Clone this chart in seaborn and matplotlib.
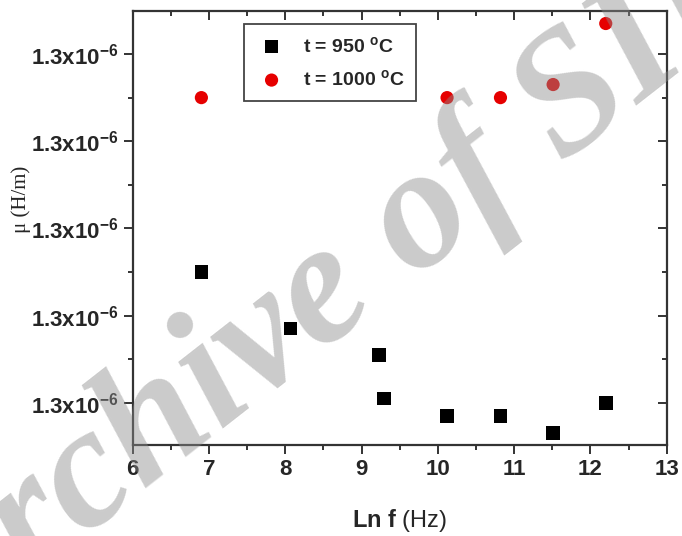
import matplotlib
matplotlib.use("Agg")
import matplotlib.pyplot as plt
from matplotlib.ticker import FixedLocator, AutoMinorLocator, FuncFormatter
import seaborn as sns
import pandas as pd

# ---- data (mu in units of 1e-6 H/m) ----
lnf_950 = [6.90, 8.07, 9.23, 9.29, 10.12, 10.82, 11.51, 12.20]
mu_950 = [1.25630, 1.25617, 1.25611, 1.25601, 1.25597, 1.25597, 1.25593, 1.25600]
lnf_1000 = [6.90, 10.12, 10.82, 11.51, 12.20]
mu_1000 = [1.25670, 1.25670, 1.25670, 1.25673, 1.25687]
x_ticks = [6, 7, 8, 9, 10, 11, 12, 13]
y_ticks = [1.2560, 1.2562, 1.2564, 1.2566, 1.2568]
label_950 = r"t = 950 $^{\mathbf{o}}$C"
label_1000 = r"t = 1000 $^{\mathbf{o}}$C"

sns.set_theme(style="ticks")
plt.rcParams["font.family"] = ["Liberation Sans", "DejaVu Sans"]
plt.rcParams["mathtext.fontset"] = "custom"
plt.rcParams["mathtext.rm"] = "Liberation Sans"
plt.rcParams["mathtext.bf"] = "Liberation Sans:bold"
plt.rcParams["mathtext.it"] = "Liberation Sans:italic"

df950 = pd.DataFrame({"lnf": lnf_950, "mu": mu_950})
df1000 = pd.DataFrame({"lnf": lnf_1000, "mu": mu_1000})

fig = plt.figure(figsize=(6.82, 5.36), dpi=100)
ax = fig.add_axes([0.1946, 0.1689, 0.7831, 0.8100])

sns.scatterplot(data=df950, x="lnf", y="mu", marker="s", color="black", s=95,
                edgecolor="none", label=label_950, ax=ax, zorder=3)
sns.scatterplot(data=df1000, x="lnf", y="mu", marker="o", color="#e60000", s=90,
                edgecolor="none", label=label_1000, ax=ax, zorder=3)

ax.set_xlim(6, 13)
ax.set_ylim(1.255902, 1.256898)
ax.xaxis.set_major_locator(FixedLocator(x_ticks))
ax.yaxis.set_major_locator(FixedLocator(y_ticks))
ax.xaxis.set_minor_locator(AutoMinorLocator(2))
ax.yaxis.set_minor_locator(AutoMinorLocator(2))
ax.yaxis.set_major_formatter(FuncFormatter(lambda v, p: f"{v:.1f}x10$^{{\\mathbf{{-6}}}}$"))
ax.xaxis.set_major_formatter(FuncFormatter(lambda v, p: f"{v:.0f}"))

spine_col = "#333333"
for sp in ax.spines.values():
    sp.set_visible(True)
    sp.set_color(spine_col)
    sp.set_linewidth(1.6)

ax.tick_params(axis="both", which="both", top=True, right=True, color=spine_col, width=1.4)
ax.tick_params(axis="x", which="major", direction="out", length=6.5, pad=3)
ax.tick_params(axis="y", which="major", direction="out", length=6.5, pad=4)
ax.tick_params(axis="both", which="minor", direction="out", length=3.5)
# top / right ticks point inward
for t in ax.xaxis.get_major_ticks() + ax.xaxis.get_minor_ticks():
    t.tick2line.set_marker(3)
for t in ax.yaxis.get_major_ticks() + ax.yaxis.get_minor_ticks():
    t.tick2line.set_marker(0)

for lab in ax.get_xticklabels():
    lab.set_fontsize(16)
    lab.set_fontweight("bold")
for lab in ax.get_yticklabels():
    lab.set_fontsize(16)
    lab.set_fontweight("bold")

ax.set_xlabel(r"$\mathbf{Ln\ f}$ (Hz)", fontsize=17, labelpad=20)
ax.set_ylabel("")
fig.text(0.031, 0.628, "μ (H/m)", rotation=90, ha="center", va="center",
         fontsize=15, family="Liberation Serif")

leg = ax.legend(loc="upper left", bbox_to_anchor=(0.209, 0.971), frameon=True,
                fancybox=False, framealpha=1, edgecolor="#444444", borderpad=0.6,
                handlelength=1.6, handletextpad=0.8, labelspacing=0.7, borderaxespad=0,
                prop={"family": "Liberation Sans", "weight": "bold", "size": 14})
leg.get_frame().set_linewidth(1.3)

# watermark
fig.text(0.50, 0.46, "Archive of SID", rotation=38, rotation_mode="anchor",
         ha="center", va="center", fontsize=125, family="Liberation Serif",
         style="italic", weight="bold", color="0.55", alpha=0.45, zorder=10)

fig.savefig("out.png", dpi=100)
